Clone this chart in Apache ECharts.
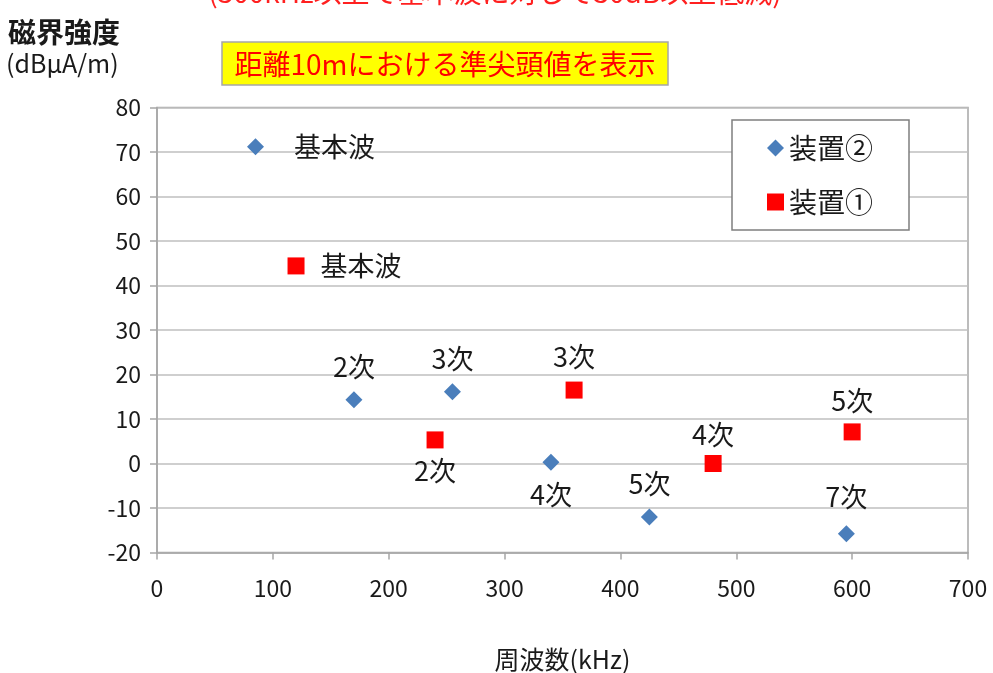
<!DOCTYPE html>
<html><head><meta charset="utf-8">
<script src="https://cdn.jsdelivr.net/npm/echarts@6/dist/echarts.min.js"></script>
<style>html,body{margin:0;padding:0;background:#fff}#c{width:993px;height:673px}</style>
</head><body><div id="c"></div>
<script>
// ---- data ----
const seriesNames = ['装置②', '装置①'];
const dev2Freq = [85, 170, 255, 340, 425, 595];
const dev2Level = [71.2, 14.3, 16.1, 0.3, -12.0, -15.8];
const dev2Labels = ['基本波', '2次', '3次', '4次', '5次', '7次'];
const dev1Freq = [120, 240, 360, 480, 600];
const dev1Level = [44.4, 5.3, 16.5, 0.0, 7.1];
const dev1Labels = ['基本波', '2次', '3次', '4次', '5次'];
const xName = '周波数(kHz)';
const yNameLine1 = '磁界強度';
const yNameLine2 = '(dBμA/m)';
const noteText = '距離10mにおける準尖頭値を表示';
const topText = '(300kHz以上で基本波に対して30dB以上低減)';

const FONT = '"Noto Sans CJK JP", "Noto Sans", sans-serif';
const TXT = '#1a1a1a';

function mk(freq, level, labels, pos, dist) {
  return freq.map((f, i) => ({
    value: [f, level[i]],
    label: { show: true, formatter: labels[i], position: pos[i], distance: dist[i] }
  }));
}
const dev2Data = mk(dev2Freq, dev2Level, dev2Labels,
  ['right', 'top', 'top', 'bottom', 'top', 'top'], [30, 11, 11, 11, 11, 15]);
const dev1Data = mk(dev1Freq, dev1Level, dev1Labels,
  ['right', 'bottom', 'top', 'top', 'top'], [16, 9, 11, 7, 9]);

const chart = echarts.init(document.getElementById('c'));
const labelStyle = { color: TXT, fontSize: 27, fontFamily: FONT };
chart.setOption({
  animation: false,
  backgroundColor: '#fff',
  textStyle: { fontFamily: FONT },
  grid: { left: 157, right: 25, top: 107.5, bottom: 120.5, show: true, borderColor: '#a6a6a6', borderWidth: 1.5,
          containLabel: false, outerBoundsMode: 'none' },
  xAxis: {
    type: 'value', min: 0, max: 700, interval: 100,
    name: xName, nameLocation: 'middle', nameGap: 94,
    nameTextStyle: { color: TXT, fontSize: 25, fontFamily: FONT },
    axisLine: { onZero: false, lineStyle: { color: '#a6a6a6', width: 1.5 } },
    axisTick: { show: true, length: 7, lineStyle: { color: '#a6a6a6', width: 1.5 } },
    axisLabel: { color: TXT, fontSize: 23, margin: 24, fontFamily: FONT },
    splitLine: { show: false }
  },
  yAxis: {
    type: 'value', min: -20, max: 80, interval: 10,
    axisLine: { show: true, onZero: false, lineStyle: { color: '#a6a6a6', width: 1.5 } },
    axisTick: { show: true, length: 7, lineStyle: { color: '#a6a6a6', width: 1.5 } },
    axisLabel: { color: TXT, fontSize: 23, margin: 16, fontFamily: FONT },
    splitLine: { show: true, lineStyle: { color: '#bfbfbf', width: 1.5 } }
  },
  legend: {
    orient: 'vertical', left: 732, top: 120,
    data: seriesNames,
    backgroundColor: '#fff', borderColor: '#7f7f7f', borderWidth: 1.5,
    padding: [13, 36, 13, 35], itemGap: 24, itemWidth: 17, itemHeight: 17,
    textStyle: { color: TXT, fontSize: 28, lineHeight: 30, fontFamily: FONT }
  },
  series: [
    {
      name: seriesNames[0], type: 'scatter', symbol: 'diamond', symbolSize: 17,
      itemStyle: { color: '#4a7ebb', opacity: 1 },
      label: labelStyle,
      data: dev2Data, z: 3
    },
    {
      name: seriesNames[1], type: 'scatter', symbol: 'rect', symbolSize: 17,
      itemStyle: { color: '#ff0000', opacity: 1 },
      label: labelStyle,
      data: dev1Data, z: 3
    }
  ],
  graphic: [
    { type: 'text', x: 495, y: 6, style: { text: topText, font: '28px ' + FONT, fill: '#ff2020', align: 'center', verticalAlign: 'bottom' } },
    { type: 'text', x: 8, y: 32, style: { text: yNameLine1, font: 'bold 28px ' + FONT, fill: TXT, align: 'left', verticalAlign: 'middle' } },
    { type: 'text', x: 6, y: 63, style: { text: yNameLine2, font: '25px ' + FONT, fill: TXT, align: 'left', verticalAlign: 'middle' } },
    { type: 'rect', shape: { x: 222, y: 42, width: 446, height: 43 }, style: { fill: '#ffff00', stroke: '#a6a6a6', lineWidth: 1.5 } },
    { type: 'text', x: 445, y: 64, style: { text: noteText, font: '28px ' + FONT, fill: '#ff0000', align: 'center', verticalAlign: 'middle' } }
  ]
});
</script>
</body></html>
